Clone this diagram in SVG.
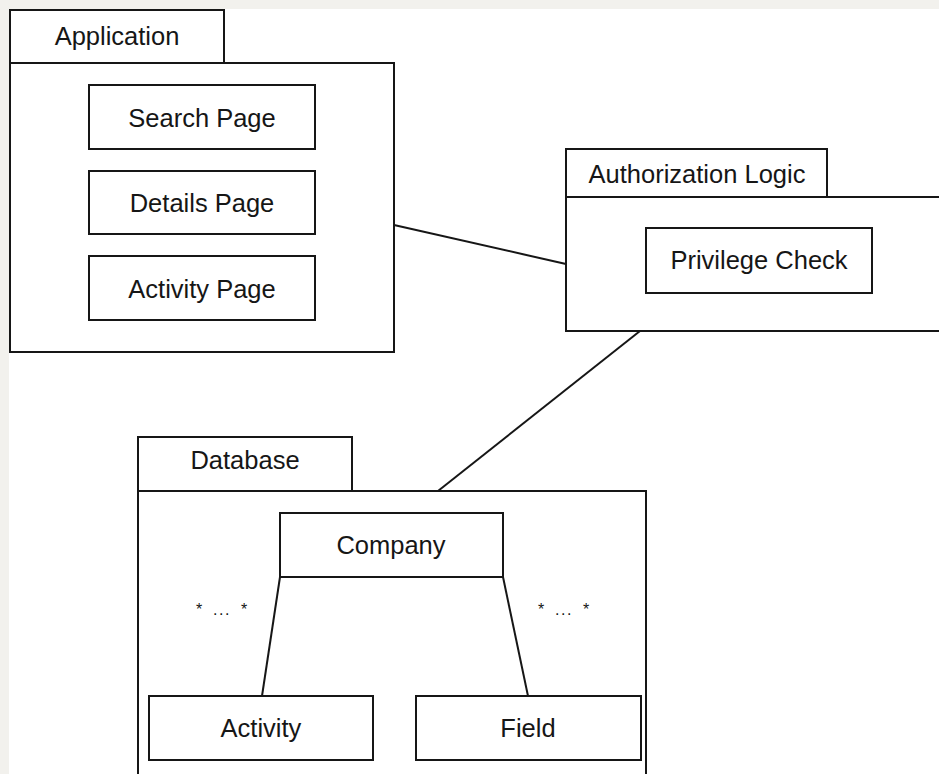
<svg xmlns="http://www.w3.org/2000/svg" width="939" height="774" viewBox="0 0 939 774">
  <style>
    .box { fill: #ffffff; stroke: #161616; stroke-width: 2; }
    .lbl { font-family: "Liberation Sans", Arial, Helvetica, sans-serif; font-size: 25.5px; fill: #161616; text-anchor: middle; }
    .mult { font-family: "Liberation Sans", Arial, Helvetica, sans-serif; font-size: 16px; fill: #161616; }
    .edge { fill: none; stroke: #161616; stroke-width: 2; }
  </style>
  <rect x="0" y="0" width="939" height="774" fill="#f2f1ed"/>
  <rect x="9" y="9" width="930" height="765" fill="#ffffff"/>

  <g id="application">
    <rect class="box" x="10" y="10" width="214" height="53"/>
    <rect class="box" x="10" y="63" width="384" height="289"/>
    <text class="lbl" x="117" y="45">Application</text>
  </g>
  <g id="search-page">
    <rect class="box" x="89" y="85" width="226" height="64"/>
    <text class="lbl" x="202" y="127">Search Page</text>
  </g>
  <g id="details-page">
    <rect class="box" x="89" y="171" width="226" height="63"/>
    <text class="lbl" x="202" y="212">Details Page</text>
  </g>
  <g id="activity-page">
    <rect class="box" x="89" y="256" width="226" height="64"/>
    <text class="lbl" x="202" y="298">Activity Page</text>
  </g>

  <g id="authorization-logic">
    <rect class="box" x="566" y="149" width="261" height="48"/>
    <rect class="box" x="566" y="197" width="380" height="134"/>
    <text class="lbl" x="697" y="183">Authorization Logic</text>
  </g>
  <g id="privilege-check">
    <rect class="box" x="646" y="228" width="226" height="65"/>
    <text class="lbl" x="759" y="269">Privilege Check</text>
  </g>

  <g id="database">
    <rect class="box" x="138" y="437" width="214" height="54"/>
    <rect class="box" x="138" y="491" width="508" height="290"/>
    <text class="lbl" x="245" y="469">Database</text>
  </g>
  <g id="company">
    <rect class="box" x="280" y="513" width="223" height="64"/>
    <text class="lbl" x="391" y="554">Company</text>
  </g>
  <g id="activity">
    <rect class="box" x="149" y="696" width="224" height="64"/>
    <text class="lbl" x="261" y="737">Activity</text>
  </g>
  <g id="field">
    <rect class="box" x="416" y="696" width="225" height="64"/>
    <text class="lbl" x="528" y="737">Field</text>
  </g>

  <g id="connectors">
    <line class="edge" x1="394" y1="225" x2="566" y2="264"/>
    <line class="edge" x1="640" y1="331" x2="438" y2="491"/>
    <line class="edge" x1="280" y1="577" x2="262" y2="696"/>
    <line class="edge" x1="503" y1="577" x2="528" y2="696"/>
  </g>

  <g id="multiplicities">
    <text class="mult" x="196 213 219 225 241" y="615">*...*</text>
    <text class="mult" x="538 555 561 567 583" y="615">*...*</text>
  </g>
</svg>
